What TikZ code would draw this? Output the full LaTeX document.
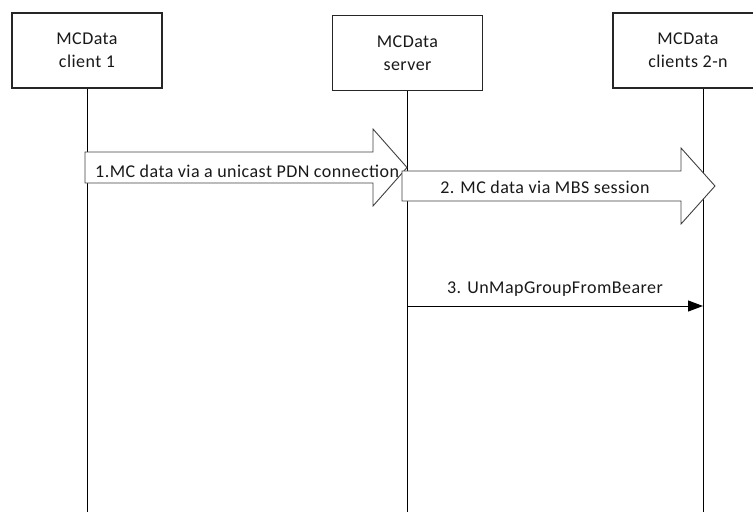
\documentclass[tikz,border=0pt]{standalone}
\usepackage{fontspec}
\setmainfont[LetterSpace=2.5]{Carlito}
\usetikzlibrary{arrows.meta}
\begin{document}
\begin{tikzpicture}[x=1pt,y=-1pt,
  font=\fontsize{18}{23}\selectfont,
  actor/.style={draw=black!85, line width=1.1pt, fill=white, minimum width=150pt, minimum height=75pt, align=center, inner sep=0pt, text=black!90},
  life/.style={draw=black, line width=1pt},
  block/.style={draw=black!75, line width=0.9pt, fill=white},
  lbl/.style={inner sep=0pt, text=black!90},
  msg/.style={draw=black, line width=1pt, -{Triangle[length=15pt,width=11pt]}}]
\useasboundingbox (0,0) rectangle (753,512);
% actors
\node[actor] (c1) at (87,50.5) {MCData\\client 1};
\node[actor] (srv) at (407.5,53) {MCData\\server};
\node[actor] (c2) at (688,50.5) {MCData\\clients 2-n};
% lifeline ends
\coordinate (c1end) at (87,512);
\coordinate (srvend) at (407,512);
\coordinate (c2end) at (703,512);
\draw[life] (c1.south) -- (c1end);
\draw[life] (srv.south -| srvend) -- (srvend);
\draw[life] (c2.south -| c2end) -- (c2end);
% block arrow 1
\draw[block] (85,152) -- (373,152) -- (373,129) -- (407,167.5) -- (373,206) -- (373,183) -- (85,183) -- cycle;
% block arrow 2
\draw[block] (402,171) -- (681,171) -- (681,148) -- (715,186) -- (681,224) -- (681,201) -- (402,201) -- cycle;
\node[lbl, anchor=west] (t1) at (95,171) {1.MC data via a unicast PDN connection};
\node[lbl] (t2) at (545,187) {2. MC data via MBS session};
% message 3
\coordinate (m3s) at (407,306);
\coordinate (m3e) at (703,306);
\draw[msg] (m3s) -- (m3e);
\node[lbl] (t3) at (555,289) {3. UnMapGroupFromBearer};
\end{tikzpicture}
\end{document}
